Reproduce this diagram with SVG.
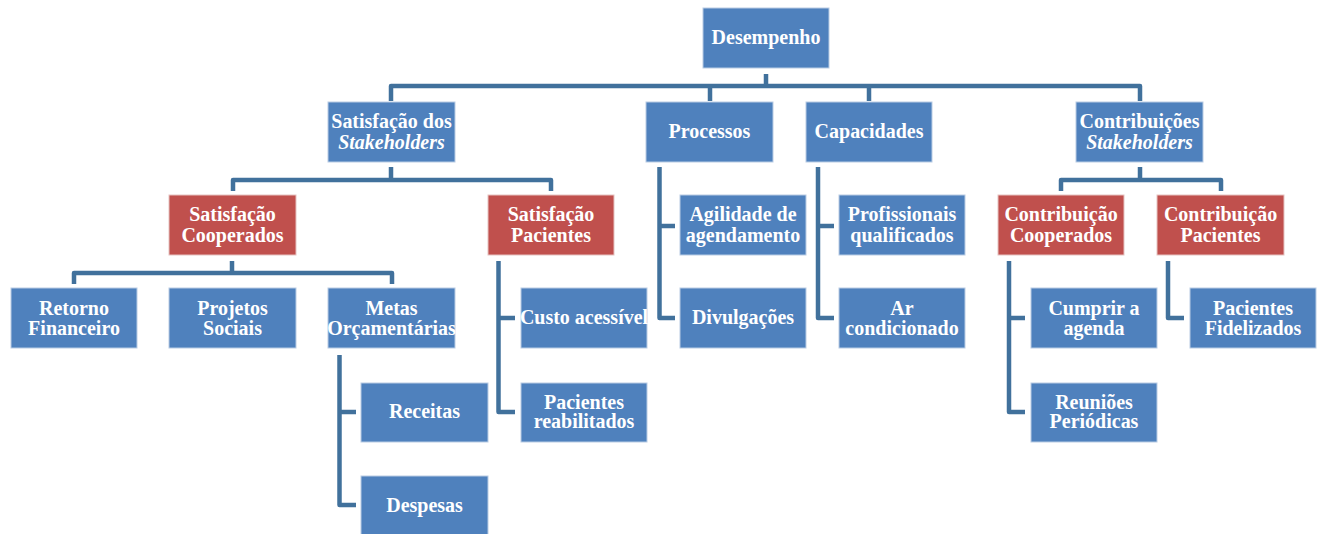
<svg xmlns="http://www.w3.org/2000/svg" width="1319" height="534" viewBox="0 0 1319 534">
  <style>
    .box { fill: #4F81BD; stroke: #B9CCE4; stroke-width: 1; }
    .red { fill: #C0504D; stroke: #E6C3C2; stroke-width: 1; }
    .lbl { font-family: "Liberation Serif", "Times New Roman", serif; font-weight: bold; font-size: 20px; fill: #FFFFFF; text-anchor: middle; }
    .it { font-style: italic; }
    .conn { fill: none; stroke: #41719C; stroke-width: 4.5; stroke-linejoin: round; stroke-linecap: butt; }
  </style>
  <rect width="1319" height="534" fill="#FFFFFF"/>

  <!-- connectors -->
  <g id="connectors" class="conn">
    <path d="M766,74 V86 M391,101 V86 H1140 V101 M710,86 V101 M869,86 V101"/>
    <path d="M391,167 V180 M233,191 V180 H551 V191"/>
    <path d="M1140,167 V180 M1061,191 V180 H1221 V191"/>
    <path d="M659.5,167 V318 H675 M659.5,226 H675"/>
    <path d="M818,167 V318 H834 M818,226 H834"/>
    <path d="M232,261 V273 M74,284 V273 H392 V284"/>
    <path d="M498.5,261 V412 H515 M498.5,318 H515"/>
    <path d="M339.5,355 V505 H356 M339.5,412 H356"/>
    <path d="M1009,261 V412 H1025 M1009,318 H1025"/>
    <path d="M1168,261 V318 H1184"/>
  </g>

  <!-- labels are drawn slightly tall: matrix(1 0 0 1.08 x baseline) -->

  <!-- level 0 -->
  <g id="desempenho">
    <rect class="box" x="703" y="8" width="126" height="60"/>
    <text class="lbl" transform="matrix(1 0 0 1.08 766 43.5)">Desempenho</text>
  </g>

  <!-- level 1 -->
  <g id="satisfacao-stakeholders">
    <rect class="box" x="328" y="102" width="127" height="60"/>
    <text class="lbl" transform="matrix(1 0 0 1.08 391.5 128)">Satisfação dos</text>
    <text class="lbl it" transform="matrix(1 0 0 1.08 391.5 148.5)">Stakeholders</text>
  </g>
  <g id="processos">
    <rect class="box" x="646" y="102" width="127" height="60"/>
    <text class="lbl" transform="matrix(1 0 0 1.08 709.5 137.5)">Processos</text>
  </g>
  <g id="capacidades">
    <rect class="box" x="806" y="102" width="126" height="60"/>
    <text class="lbl" transform="matrix(1 0 0 1.08 869 137.5)">Capacidades</text>
  </g>
  <g id="contribuicoes-stakeholders">
    <rect class="box" x="1076" y="102" width="127" height="60"/>
    <text class="lbl" transform="matrix(1 0 0 1.08 1139.5 128)">Contribuições</text>
    <text class="lbl it" transform="matrix(1 0 0 1.08 1139.5 148.5)">Stakeholders</text>
  </g>

  <!-- level 2 -->
  <g id="satisfacao-cooperados">
    <rect class="red" x="169" y="195" width="127" height="60"/>
    <text class="lbl" transform="matrix(1 0 0 1.08 232.5 221)">Satisfação</text>
    <text class="lbl" transform="matrix(1 0 0 1.08 232.5 241.5)">Cooperados</text>
  </g>
  <g id="satisfacao-pacientes">
    <rect class="red" x="488" y="195" width="126" height="60"/>
    <text class="lbl" transform="matrix(1 0 0 1.08 551 221)">Satisfação</text>
    <text class="lbl" transform="matrix(1 0 0 1.08 551 241.5)">Pacientes</text>
  </g>
  <g id="agilidade">
    <rect class="box" x="680" y="195" width="126" height="60"/>
    <text class="lbl" transform="matrix(1 0 0 1.08 743 221)">Agilidade de</text>
    <text class="lbl" transform="matrix(1 0 0 1.08 743 241.5)">agendamento</text>
  </g>
  <g id="profissionais">
    <rect class="box" x="839" y="195" width="126" height="60"/>
    <text class="lbl" transform="matrix(1 0 0 1.08 902 221)">Profissionais</text>
    <text class="lbl" transform="matrix(1 0 0 1.08 902 241.5)">qualificados</text>
  </g>
  <g id="contribuicao-cooperados">
    <rect class="red" x="998" y="195" width="126" height="60"/>
    <text class="lbl" transform="matrix(1 0 0 1.08 1061 221)">Contribuição</text>
    <text class="lbl" transform="matrix(1 0 0 1.08 1061 241.5)">Cooperados</text>
  </g>
  <g id="contribuicao-pacientes">
    <rect class="red" x="1157" y="195" width="127" height="60"/>
    <text class="lbl" transform="matrix(1 0 0 1.08 1220.5 221)">Contribuição</text>
    <text class="lbl" transform="matrix(1 0 0 1.08 1220.5 241.5)">Pacientes</text>
  </g>

  <!-- level 3 -->
  <g id="retorno-financeiro">
    <rect class="box" x="11" y="288" width="126" height="60"/>
    <text class="lbl" transform="matrix(1 0 0 1.08 74 314.5)">Retorno</text>
    <text class="lbl" transform="matrix(1 0 0 1.08 74 335)">Financeiro</text>
  </g>
  <g id="projetos-sociais">
    <rect class="box" x="169" y="288" width="127" height="60"/>
    <text class="lbl" transform="matrix(1 0 0 1.08 232.5 314.5)">Projetos</text>
    <text class="lbl" transform="matrix(1 0 0 1.08 232.5 335)">Sociais</text>
  </g>
  <g id="metas-orcamentarias">
    <rect class="box" x="328" y="288" width="127" height="60"/>
    <text class="lbl" transform="matrix(1 0 0 1.08 391.5 314.5)">Metas</text>
    <text class="lbl" transform="matrix(1 0 0 1.08 391.5 335)">Orçamentárias</text>
  </g>
  <g id="custo-acessivel">
    <rect class="box" x="521" y="288" width="126" height="60"/>
    <text class="lbl" transform="matrix(1 0 0 1.08 584 324)">Custo acessível</text>
  </g>
  <g id="divulgacoes">
    <rect class="box" x="680" y="288" width="126" height="60"/>
    <text class="lbl" transform="matrix(1 0 0 1.08 743 324)">Divulgações</text>
  </g>
  <g id="ar-condicionado">
    <rect class="box" x="839" y="288" width="126" height="60"/>
    <text class="lbl" transform="matrix(1 0 0 1.08 902 314.5)">Ar</text>
    <text class="lbl" transform="matrix(1 0 0 1.08 902 335)">condicionado</text>
  </g>
  <g id="cumprir-agenda">
    <rect class="box" x="1031" y="288" width="126" height="60"/>
    <text class="lbl" transform="matrix(1 0 0 1.08 1094 314.5)">Cumprir a</text>
    <text class="lbl" transform="matrix(1 0 0 1.08 1094 335)">agenda</text>
  </g>
  <g id="pacientes-fidelizados">
    <rect class="box" x="1190" y="288" width="126" height="60"/>
    <text class="lbl" transform="matrix(1 0 0 1.08 1253 314.5)">Pacientes</text>
    <text class="lbl" transform="matrix(1 0 0 1.08 1253 335)">Fidelizados</text>
  </g>

  <!-- level 4 -->
  <g id="receitas">
    <rect class="box" x="361" y="383" width="127" height="59"/>
    <text class="lbl" transform="matrix(1 0 0 1.08 424.5 418)">Receitas</text>
  </g>
  <g id="pacientes-reabilitados">
    <rect class="box" x="521" y="383" width="126" height="59"/>
    <text class="lbl" transform="matrix(1 0 0 1.08 584 408.5)">Pacientes</text>
    <text class="lbl" transform="matrix(1 0 0 1.08 584 428)">reabilitados</text>
  </g>
  <g id="reunioes-periodicas">
    <rect class="box" x="1031" y="383" width="126" height="59"/>
    <text class="lbl" transform="matrix(1 0 0 1.08 1094 408.5)">Reuniões</text>
    <text class="lbl" transform="matrix(1 0 0 1.08 1094 428)">Periódicas</text>
  </g>

  <!-- level 5 -->
  <g id="despesas">
    <rect class="box" x="361" y="476" width="127" height="60"/>
    <text class="lbl" transform="matrix(1 0 0 1.08 424.5 511.5)">Despesas</text>
  </g>
</svg>
